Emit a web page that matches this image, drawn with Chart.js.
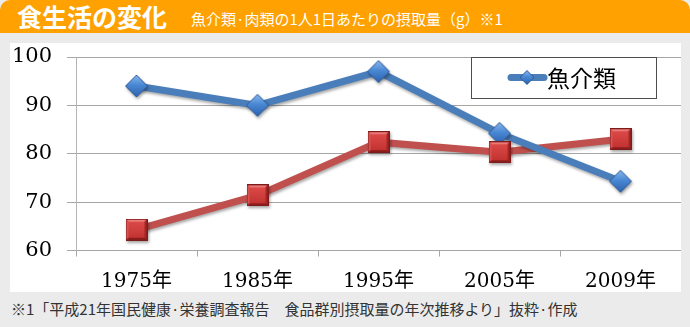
<!DOCTYPE html>
<html lang="ja">
<head>
<meta charset="utf-8">
<title>食生活の変化</title>
<script src="https://cdn.jsdelivr.net/npm/chart.js@4.4.1/dist/chart.umd.min.js"></script>
<style>
  html, body { margin: 0; padding: 0; }
  body {
    width: 690px; height: 327px; position: relative; overflow: hidden;
    background: #ebebeb;
    font-family: "Noto Sans CJK JP", "Noto Sans", sans-serif;
  }
  .head {
    position: absolute; left: 0; top: 0; width: 690px; height: 33px;
    background: #ffa100; border-radius: 10px 10px 0 0; color: #fff;
  }
  .head h1 {
    position: absolute; left: 17px; top: 1px; margin: 0;
    font-size: 25px; font-weight: 700; line-height: 30px;
  }
  .head span {
    position: absolute; left: 191px; top: 10px;
    font-size: 15px; line-height: 18px;
  }
  .panel { position: absolute; left: 10px; top: 43px; width: 671px; height: 249px; background: #fff; }
  .note {
    position: absolute; left: 11px; top: 300px;
    font-size: 15px; line-height: 18px; color: #333;
  }
</style>
</head>
<body>
<div class="head">
  <h1>食生活の変化</h1>
  <span>魚介類·肉類の1人1日あたりの摂取量（g）※1</span>
</div>
<div class="panel"><canvas id="lineChart" width="671" height="249"></canvas></div>
<div class="note">※1「平成21年国民健康·栄養調査報告　食品群別摂取量の年次推移より」抜粋·作成</div>

<script>
// g per person per day
const years = ['1975年', '1985年', '1995年', '2005年', '2009年'];
const fish = [94.0, 90.0, 97.0, 84.2, 74.3];
const meat = [64.3, 71.4, 82.4, 80.3, 83.0];
const yTicks = [60, 70, 80, 90, 100];

const serif = '"DejaVu Serif", "Noto Sans CJK JP", serif';
const blueLine = '#4a7ebb';
const redLine = '#c0504d';

// Bevelled marker images used as pointStyle
function diamondIcon(r) {
    const c = document.createElement('canvas');
    c.width = c.height = r * 2 + 2;
    const g = c.getContext('2d');
    const m = r + 1;
    const grad = g.createLinearGradient(0, 1, 0, r * 2 + 1);
    grad.addColorStop(0, '#8ab8ee');
    grad.addColorStop(0.45, '#4a88d4');
    grad.addColorStop(1, '#2c62ad');
    g.beginPath();
    g.moveTo(m, 1); g.lineTo(m + r, m); g.lineTo(m, m + r); g.lineTo(1, m);
    g.closePath();
    g.fillStyle = grad;
    g.fill();
    g.strokeStyle = '#2d5b99';
    g.lineWidth = 1;
    g.stroke();
    return c;
}

function squareIcon(s) {
    const c = document.createElement('canvas');
    c.width = c.height = s;
    const g = c.getContext('2d');
    const b = 3;
    g.fillStyle = '#a82626';
    g.fillRect(0, 0, s, s);
    // bevel facets
    const facet = (pts, col) => {
        g.beginPath();
        g.moveTo(pts[0], pts[1]);
        for (let i = 2; i < pts.length; i += 2) g.lineTo(pts[i], pts[i + 1]);
        g.closePath();
        g.fillStyle = col;
        g.fill();
    };
    facet([0, 0, s, 0, s - b, b, b, b], '#ea7a78');
    facet([0, 0, b, b, b, s - b, 0, s], '#d85250');
    facet([s, 0, s, s, s - b, s - b, s - b, b], '#a52624');
    facet([0, s, b, s - b, s - b, s - b, s, s], '#8a1c1c');
    const grad = g.createLinearGradient(0, b, 0, s - b);
    grad.addColorStop(0, '#dc4a48');
    grad.addColorStop(1, '#c23331');
    g.fillStyle = grad;
    g.fillRect(b, b, s - 2 * b, s - 2 * b);
    g.strokeStyle = '#7e1c1c';
    g.lineWidth = 1;
    g.strokeRect(0.5, 0.5, s - 1, s - 1);
    return c;
}

const diamond = diamondIcon(11);
const square = squareIcon(22);
const smallDiamond = diamondIcon(7);

// soft drop shadow under lines and markers
const shadowPlugin = {
    id: 'shadow',
    beforeDatasetDraw(chart) {
        const ctx = chart.ctx;
        ctx.save();
        ctx.shadowColor = 'rgba(0,0,0,0.35)';
        ctx.shadowBlur = 3;
        ctx.shadowOffsetX = 1;
        ctx.shadowOffsetY = 2;
    },
    afterDatasetDraw(chart) {
        chart.ctx.restore();
    }
};

// boxed legend, only the first series
const legendBox = {
    id: 'legendBox',
    afterDatasetsDraw(chart) {
        const { ctx, chartArea } = chart;
        const ds = chart.data.datasets[0];
        const w = 185, h = 41;
        const x = chartArea.right - 25 - w;
        const y = chartArea.top;
        const cy = y + h / 2;
        ctx.save();
        ctx.fillStyle = '#fff';
        ctx.fillRect(x, y, w, h);
        ctx.strokeStyle = '#4d4d4d';
        ctx.lineWidth = 1;
        ctx.strokeRect(Math.round(x) + 0.5, Math.round(y) + 0.5, w, h);
        ctx.strokeStyle = ds.borderColor;
        ctx.lineWidth = 7;
        ctx.lineCap = 'round';
        ctx.beginPath();
        ctx.moveTo(x + 40, cy);
        ctx.lineTo(x + 73, cy);
        ctx.stroke();
        ctx.drawImage(smallDiamond, x + 56 - smallDiamond.width / 2, cy - smallDiamond.height / 2);
        ctx.fillStyle = '#000';
        ctx.font = '23px "Noto Sans CJK JP", sans-serif';
        ctx.textBaseline = 'middle';
        ctx.fillText(ds.label, x + 76, cy + 1);
        ctx.restore();
    }
};

const ctx = document.getElementById('lineChart').getContext('2d');
new Chart(ctx, {
    type: 'line',
    data: {
        labels: years,
        datasets: [
            { label: '魚介類', data: fish, borderColor: blueLine, borderWidth: 7, pointRadius: 0, order: 3, clip: false },
            { label: '肉類', data: meat, borderColor: redLine, borderWidth: 7, pointRadius: 0, order: 4, clip: false },
            { label: '魚介類', data: fish, showLine: false, pointStyle: diamond, pointRadius: 11, order: 2, clip: false },
            { label: '肉類', data: meat, showLine: false, pointStyle: square, pointRadius: 11, order: 1, clip: false }
        ]
    },
    options: {
        responsive: false,
        devicePixelRatio: 1,
        animation: false,
        events: [],
        layout: { autoPadding: false, padding: { top: 14, right: 0, left: 0, bottom: 0 } },
        plugins: {
            legend: { display: false },
            tooltip: { enabled: false }
        },
        scales: {
            x: {
                offset: true,
                ticks: { color: '#000', font: { family: serif, size: 20 }, padding: 13 },
                grid: { offset: true, drawOnChartArea: false, tickLength: 6, color: '#a6a6a6' },
                border: { color: '#a6a6a6' },
                afterFit(scale) {
                    scale.height = 41.5;
                    scale.paddingLeft = 0;
                    scale.paddingRight = 0;
                }
            },
            y: {
                min: yTicks[0],
                max: yTicks[yTicks.length - 1],
                ticks: { stepSize: 10, color: '#000', font: { family: serif, size: 21 }, padding: 15 },
                grid: { color: '#a6a6a6', tickLength: 9 },
                border: { color: '#b4b4b4' },
                afterFit(scale) {
                    scale.width = 66;
                    scale.paddingTop = 0;
                    scale.paddingBottom = 0;
                }
            }
        }
    },
    plugins: [shadowPlugin, legendBox]
});
</script>
</body>
</html>
